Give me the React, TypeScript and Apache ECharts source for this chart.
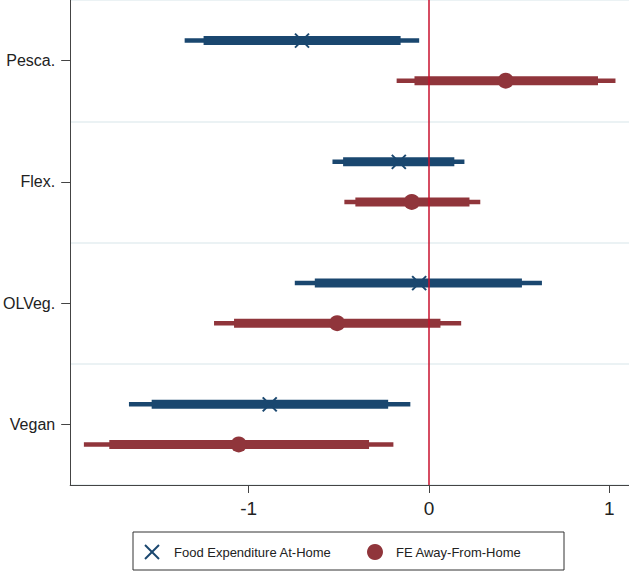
import React, { useEffect, useRef } from "react";
import * as echarts from "echarts";

// bottom to top
const categories = ["Vegan", "OLVeg.", "Flex.", "Pesca."];

const homeName = "Food Expenditure At-Home";
const homeEst = [-0.883, -0.054, -0.167, -0.704];
const homeLo95 = [-1.664, -0.744, -0.535, -1.355];
const homeLo90 = [-1.538, -0.633, -0.476, -1.25];
const homeHi90 = [-0.226, 0.516, 0.141, -0.157];
const homeHi95 = [-0.103, 0.627, 0.197, -0.054];

const awayName = "FE Away-From-Home";
const awayEst = [-1.055, -0.509, -0.095, 0.426];
const awayLo95 = [-1.914, -1.192, -0.469, -0.179];
const awayLo90 = [-1.773, -1.081, -0.408, -0.08];
const awayHi90 = [-0.332, 0.064, 0.225, 0.938];
const awayHi95 = [-0.197, 0.179, 0.285, 1.035];

const xTicks = [-1, 0, 1];

const BLUE = "#1a476f";
const RED = "#90353b";
const FONT = "Liberation Sans, Arial, sans-serif";

function buildRows(lo95: number[], lo90: number[], est: number[], hi90: number[], hi95: number[]) {
  return categories.map((_, i) => [i, lo95[i], lo90[i], est[i], hi90[i], hi95[i]]);
}

function makeRender(color: string, offset: number, marker: "x" | "circle") {
  return (params: any, api: any) => {
    const cat = api.value(0);
    const band = api.size([0, 1])[1];
    const px = (dim: number) => api.coord([api.value(dim), cat])[0];
    const cy = api.coord([0, cat])[1] + offset * band;
    const x95a = px(1), x90a = px(2), xe = px(3), x90b = px(4), x95b = px(5);
    const children: any[] = [
      { type: "line", shape: { x1: x95a, y1: cy, x2: x95b, y2: cy }, style: { stroke: color, lineWidth: 4.5 } },
      { type: "line", shape: { x1: x90a, y1: cy, x2: x90b, y2: cy }, style: { stroke: color, lineWidth: 9 } },
    ];
    if (marker === "x") {
      const h = 7;
      children.push(
        { type: "line", shape: { x1: xe - h, y1: cy - h, x2: xe + h, y2: cy + h }, style: { stroke: color, lineWidth: 2 } },
        { type: "line", shape: { x1: xe - h, y1: cy + h, x2: xe + h, y2: cy - h }, style: { stroke: color, lineWidth: 2 } }
      );
    } else {
      children.push({ type: "circle", shape: { cx: xe, cy, r: 8 }, style: { fill: color } });
    }
    return { type: "group", children };
  };
}

export default function App() {
  const ref = useRef<HTMLDivElement>(null);
  useEffect(() => {
    if (!ref.current) return;
    const chart = echarts.init(ref.current, undefined, { renderer: "svg" });
    const option: any = {
      animation: false,
      backgroundColor: "#ffffff",
      grid: { left: 69, right: 0, top: 0, bottom: 87 },
      xAxis: {
        type: "value",
        min: -1.99,
        max: 1.11,
        splitLine: { show: false },
        axisLine: { show: true, onZero: false, lineStyle: { color: "#444", width: 1 } },
        axisTick: { show: true, length: 8, customValues: xTicks, lineStyle: { color: "#444" } },
        axisLabel: { customValues: xTicks, fontSize: 19, color: "#222", fontFamily: FONT, margin: 14 },
      },
      yAxis: {
        type: "category",
        data: categories,
        boundaryGap: true,
        axisLine: { show: true, onZero: false, lineStyle: { color: "#444", width: 1 } },
        axisTick: { show: true, alignWithLabel: true, length: 9, lineStyle: { color: "#444" } },
        splitLine: { show: true, lineStyle: { color: "#e4eef1", width: 1.5 } },
        axisLabel: { fontSize: 16, color: "#222", fontFamily: FONT, margin: 15 },
      },
      series: [
        {
          type: "custom",
          name: homeName,
          data: buildRows(homeLo95, homeLo90, homeEst, homeHi90, homeHi95),
          encode: { x: [1, 2, 3, 4, 5], y: 0 },
          renderItem: makeRender(BLUE, -0.165, "x"),
          z: 2,
        },
        {
          type: "custom",
          name: awayName,
          data: buildRows(awayLo95, awayLo90, awayEst, awayHi90, awayHi95),
          encode: { x: [1, 2, 3, 4, 5], y: 0 },
          renderItem: makeRender(RED, 0.165, "circle"),
          z: 2,
          markLine: {
            silent: true,
            symbol: ["none", "none"],
            label: { show: false },
            lineStyle: { color: "#c8102e", width: 1.5, type: "solid" },
            data: [{ xAxis: 0 }],
            z: 5,
          },
        },
      ],
      graphic: [
        {
          type: "rect",
          shape: { x: 133, y: 532, width: 431, height: 38 },
          style: { fill: "#ffffff", stroke: "#333", lineWidth: 1 },
        },
        { type: "line", shape: { x1: 145, y1: 545, x2: 159, y2: 559 }, style: { stroke: BLUE, lineWidth: 2 } },
        { type: "line", shape: { x1: 145, y1: 559, x2: 159, y2: 545 }, style: { stroke: BLUE, lineWidth: 2 } },
        {
          type: "text",
          x: 174,
          y: 552,
          style: { text: homeName, fill: "#222", font: "13px " + FONT, verticalAlign: "middle", align: "left" },
        },
        { type: "circle", shape: { cx: 375, cy: 552, r: 8 }, style: { fill: RED } },
        {
          type: "text",
          x: 396,
          y: 552,
          style: { text: awayName, fill: "#222", font: "13px " + FONT, verticalAlign: "middle", align: "left" },
        },
      ],
    };
    chart.setOption(option);
    return () => chart.dispose();
  }, []);
  return (
    <div
      ref={ref}
      style={{ position: "fixed", left: 0, top: 0, width: 629, height: 572, background: "#fff" }}
    />
  );
}
